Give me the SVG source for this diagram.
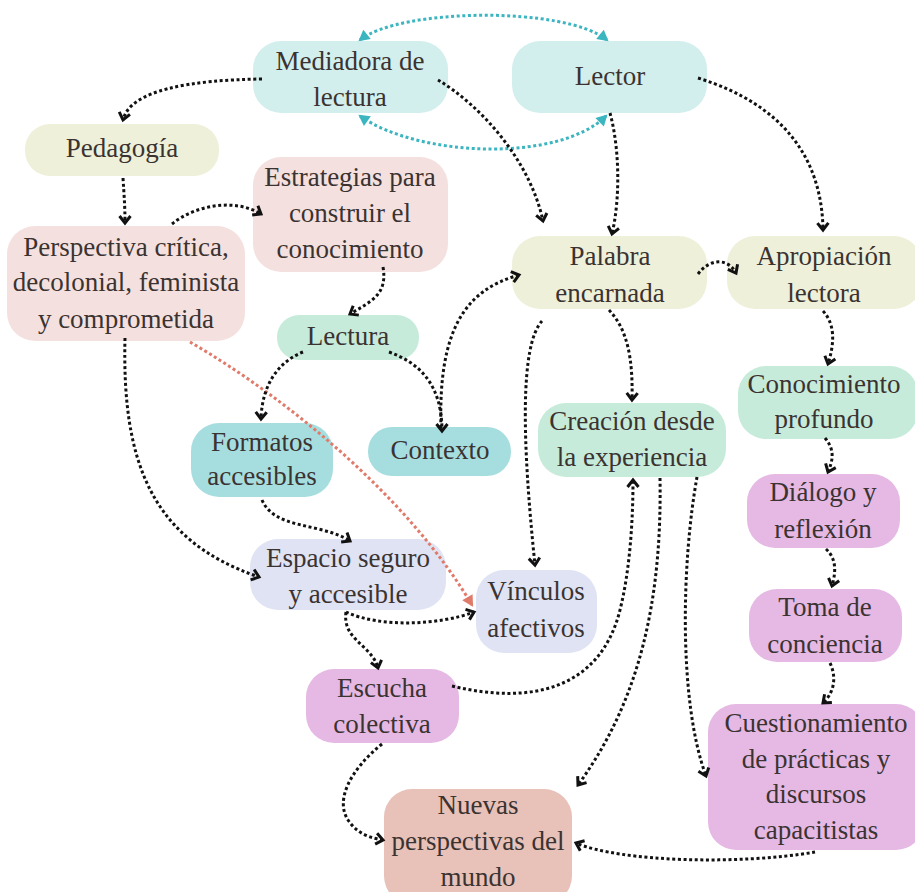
<svg xmlns="http://www.w3.org/2000/svg" width="915" height="892" viewBox="0 0 915 892">
<defs>
<style>
.t{font-family:"Liberation Serif","Times New Roman",serif;font-size:27px;fill:#3b3331;text-anchor:middle}
.c{fill:none;stroke:#111;stroke-width:3;stroke-dasharray:3 2.6;marker-end:url(#ah)}
.teal{fill:none;stroke:#3bb5c0;stroke-width:3;stroke-dasharray:3 2.6;marker-start:url(#tah);marker-end:url(#tah)}
.red{fill:none;stroke:#e07a6a;stroke-width:3;stroke-dasharray:3 2.6;marker-end:url(#rah)}
.b1{fill:#d3efed}.b2{fill:#eef0d9}.b3{fill:#f4e1df}.b4{fill:#c6ebdb}.b5{fill:#a6dee0}.b6{fill:#dfe3f3}.b7{fill:#e5b9e4}.b8{fill:#e8c1b9}
</style>
<marker id="ah" markerUnits="userSpaceOnUse" markerWidth="14" markerHeight="14" refX="8" refY="6" orient="auto" overflow="visible">
<path d="M1,0.5 L8,6 L1,11.5" fill="none" stroke="#111" stroke-width="3"/>
</marker>
<marker id="tah" markerUnits="userSpaceOnUse" markerWidth="14" markerHeight="14" refX="9" refY="6" orient="auto-start-reverse" overflow="visible">
<path d="M0,0 L11,6 L0,12 Z" fill="#3bb5c0"/>
</marker>
<marker id="rah" markerUnits="userSpaceOnUse" markerWidth="14" markerHeight="14" refX="9" refY="6" orient="auto" overflow="visible">
<path d="M0,0 L11,6 L0,12 Z" fill="#e07a6a"/>
</marker>
</defs>
<rect width="915" height="892" fill="#ffffff"/>

<g id="n-mediadora"><rect class="b1" x="253" y="41" width="195" height="72" rx="28"/><text class="t" x="350" y="70">Mediadora de</text><text class="t" x="350" y="106">lectura</text></g>
<g id="n-lector"><rect class="b1" x="512" y="41" width="195" height="72" rx="28"/><text class="t" x="610" y="85">Lector</text></g>
<g id="n-pedagogia"><rect class="b2" x="25" y="124" width="194" height="52" rx="25"/><text class="t" x="122" y="157">Pedagogía</text></g>
<g id="n-estrategias"><rect class="b3" x="253" y="157" width="195" height="115" rx="28"/><text class="t" x="350" y="186">Estrategias para</text><text class="t" x="350" y="222">construir el</text><text class="t" x="350" y="258">conocimiento</text></g>
<g id="n-perspectiva"><rect class="b3" x="7" y="226" width="238" height="115" rx="28"/><text class="t" x="126" y="256">Perspectiva crítica,</text><text class="t" x="126" y="291">decolonial, feminista</text><text class="t" x="126" y="328">y comprometida</text></g>
<g id="n-lectura"><rect class="b4" x="277" y="315" width="142" height="45" rx="22"/><text class="t" x="348" y="345">Lectura</text></g>
<g id="n-formatos"><rect class="b5" x="191" y="423" width="142" height="74" rx="28"/><text class="t" x="262" y="451">Formatos</text><text class="t" x="262" y="485">accesibles</text></g>
<g id="n-contexto"><rect class="b5" x="368" y="427" width="143" height="49" rx="24"/><text class="t" x="440" y="459">Contexto</text></g>
<g id="n-palabra"><rect class="b2" x="512" y="236" width="195" height="73" rx="28"/><text class="t" x="610" y="265">Palabra</text><text class="t" x="610" y="302">encarnada</text></g>
<g id="n-apropiacion"><rect class="b2" x="727" y="236" width="195" height="73" rx="28"/><text class="t" x="824" y="265">Apropiación</text><text class="t" x="824" y="302">lectora</text></g>
<g id="n-creacion"><rect class="b4" x="538" y="403" width="188" height="74" rx="28"/><text class="t" x="632" y="430">Creación desde</text><text class="t" x="632" y="466">la experiencia</text></g>
<g id="n-conocimiento"><rect class="b4" x="738" y="366" width="180" height="73" rx="28"/><text class="t" x="824" y="393">Conocimiento</text><text class="t" x="824" y="428">profundo</text></g>
<g id="n-dialogo"><rect class="b7" x="747" y="474" width="153" height="74" rx="28"/><text class="t" x="823" y="501">Diálogo y</text><text class="t" x="823" y="538">reflexión</text></g>
<g id="n-toma"><rect class="b7" x="749" y="589" width="153" height="73" rx="28"/><text class="t" x="825" y="616">Toma de</text><text class="t" x="825" y="653">conciencia</text></g>
<g id="n-cuestionamiento"><rect class="b7" x="708" y="704" width="216" height="146" rx="28"/><text class="t" x="816" y="732">Cuestionamiento</text><text class="t" x="816" y="768">de prácticas y</text><text class="t" x="816" y="803">discursos</text><text class="t" x="816" y="839">capacitistas</text></g>
<g id="n-espacio"><rect class="b6" x="250" y="539" width="196" height="71" rx="28"/><text class="t" x="348" y="567">Espacio seguro</text><text class="t" x="348" y="603">y accesible</text></g>
<g id="n-vinculos"><rect class="b6" x="476" y="570" width="121" height="83" rx="28"/><text class="t" x="536" y="600">Vínculos</text><text class="t" x="536" y="637">afectivos</text></g>
<g id="n-escucha"><rect class="b7" x="306" y="669" width="153" height="74" rx="28"/><text class="t" x="382" y="697">Escucha</text><text class="t" x="382" y="733">colectiva</text></g>
<g id="n-nuevas"><rect class="b8" x="384" y="789" width="188" height="115" rx="28"/><text class="t" x="478" y="814">Nuevas</text><text class="t" x="478" y="850">perspectivas del</text><text class="t" x="478" y="886">mundo</text></g>

<g id="connectors">
<path class="teal" d="M360,40 C400,8 565,6 607,40"/>
<path class="teal" d="M360,116 C420,158 560,162 606,116"/>
<path class="red" d="M190,342 C290,400 410,500 472,605"/>
<path class="c" d="M262,79 C190,80 130,90 123,120"/>
<path class="c" d="M123,178 C124,195 125,205 125,223"/>
<path class="c" d="M172,224 C195,205 235,198 261,214"/>
<path class="c" d="M383,267 C388,295 370,302 350,314"/>
<path class="c" d="M303,352 C278,362 262,385 261,419"/>
<path class="c" d="M389,352 C420,363 442,385 442,431"/>
<path class="c" d="M441,428 C438,330 465,290 519,275"/>
<path class="c" d="M438,80 C480,105 530,160 543,221"/>
<path class="c" d="M610,113 C620,150 620,200 612,234"/>
<path class="c" d="M698,78 C785,105 822,160 823,230"/>
<path class="c" d="M698,274 C710,258 728,258 736,273"/>
<path class="c" d="M542,321 C520,345 522,440 535,565"/>
<path class="c" d="M609,310 C628,330 633,360 632,400"/>
<path class="c" d="M823,311 C836,325 834,345 828,364"/>
<path class="c" d="M825,438 C835,450 833,460 828,472"/>
<path class="c" d="M826,549 C838,560 835,575 832,586"/>
<path class="c" d="M830,663 C838,680 832,695 823,703"/>
<path class="c" d="M815,852 C740,865 620,862 576,843"/>
<path class="c" d="M660,478 C662,600 640,700 578,785"/>
<path class="c" d="M697,477 C682,560 678,700 706,776"/>
<path class="c" d="M452,686 C530,705 600,690 620,610 C630,570 633,520 633,480"/>
<path class="c" d="M346,612 C380,628 440,625 474,612"/>
<path class="c" d="M346,612 C342,640 372,645 378,668"/>
<path class="c" d="M262,500 C275,530 320,522 350,541"/>
<path class="c" d="M125,338 C122,460 150,540 259,577"/>
<path class="c" d="M382,744 C350,770 335,800 348,820 C358,835 372,838 383,840"/>
</g>
</svg>
